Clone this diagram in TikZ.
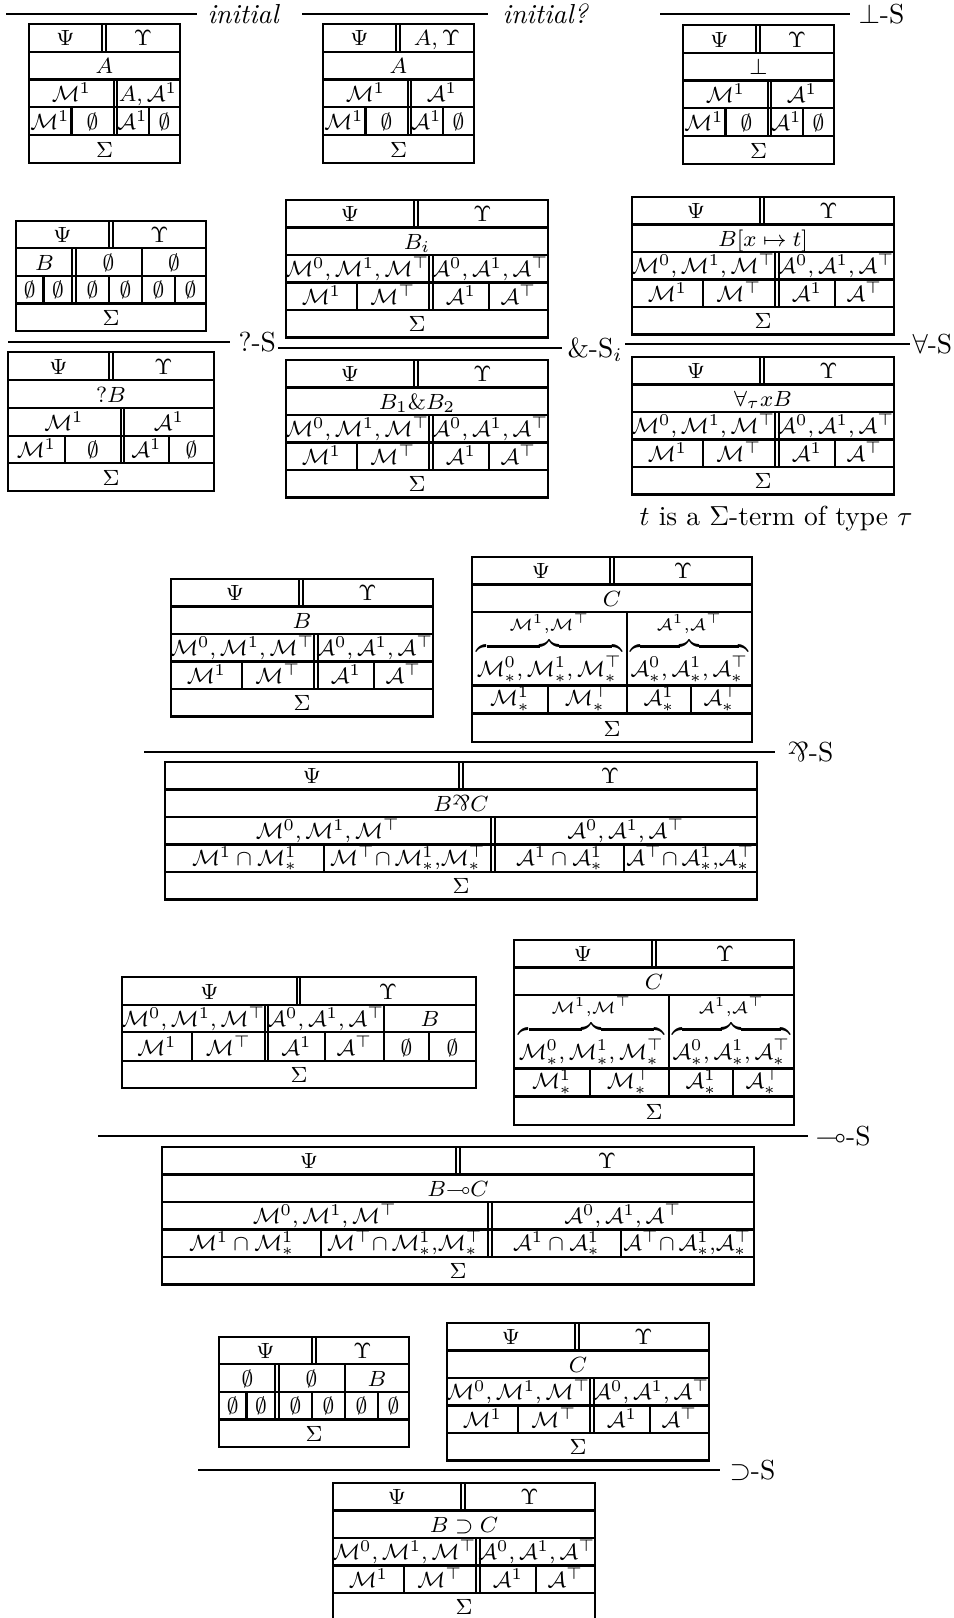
\documentclass[tikz,border=0pt]{standalone}
\usepackage{amssymb}
\newcommand\parrsym{{\rotatebox[origin=c]{180}{$\&$}}}
\newcommand\cM{\mathcal{M}}
\newcommand\cA{\mathcal{A}}
\newcounter{cellno}
\tikzset{
 ln/.style={line width=0.75pt},
 rul/.style={line width=0.85pt},
 cell/.style={inner sep=0pt, anchor=base, font=\footnotesize},
 lab/.style={inner sep=0pt, anchor=base west, font=\normalsize},
}
\newcommand\HL[3]{\draw[ln] (#1,#3) -- (#2,#3);}
\newcommand\VL[3]{\draw[ln] (#1,#2) -- (#1,#3);}
\newcommand\DVL[3]{\draw[ln] ({#1-1.8},#2) -- ({#1-1.8},#3) ({#1+1.8},#2) -- ({#1+1.8},#3);}
\newcommand\CT[3]{\stepcounter{cellno}\node[cell] (c\arabic{cellno}) at (#1,#2) {#3};}
% standard 5-row box
\newcommand\stdbox[3]{%
 \draw[ln] (#1,#2) rectangle ({#1+262},{#2+137.5});
 \HL{#1}{#1+262}{#2+27.5}
 \HL{#1}{#1+262}{#2+55}
 \HL{#1}{#1+262}{#2+82.5}
 \HL{#1}{#1+262}{#2+110}
 \DVL{#1+130}{#2}{#2+27.5}
 \DVL{#1+145}{#2+55}{#2+110}
 \VL{#1+71}{#2+82.5}{#2+110}
 \VL{#1+203}{#2+82.5}{#2+110}
 \CT{#1+64}{#2+21.5}{$\Psi$}
 \CT{#1+196.5}{#2+21.5}{$\Upsilon$}
 \CT{#1+131}{#2+49}{$#3$}
 \CT{#1+71.5}{#2+76.5}{$\cM^0,\cM^1,\cM^\top$}
 \CT{#1+204}{#2+76.5}{$\cA^0,\cA^1,\cA^\top$}
 \CT{#1+35.5}{#2+104}{$\cM^1$}
 \CT{#1+107}{#2+104}{$\cM^\top$}
 \CT{#1+175}{#2+104}{$\cA^1$}
 \CT{#1+232.5}{#2+104}{$\cA^\top$}
 \CT{#1+131}{#2+131.5}{$\Sigma$}
}
% box with braces
\newcommand\bracebox[3]{%
 \draw[ln] (#1,#2) rectangle ({#1+280},{#2+185});
 \HL{#1}{#1+280}{#2+27.5}
 \HL{#1}{#1+280}{#2+55}
 \HL{#1}{#1+280}{#2+128.5}
 \HL{#1}{#1+280}{#2+156.5}
 \DVL{#1+140}{#2}{#2+27.5}
 \VL{#1+155}{#2+55}{#2+156.5}
 \VL{#1+76}{#2+128.5}{#2+156.5}
 \VL{#1+219}{#2+128.5}{#2+156.5}
 \CT{#1+69}{#2+21.5}{$\Psi$}
 \CT{#1+211}{#2+21.5}{$\Upsilon$}
 \CT{#1+140}{#2+49}{$#3$}
 \CT{#1+77.5}{#2+119.5}{$\overbrace{\cM^0_*,\cM^1_*,\cM^\top_*}^{\cM^1,\cM^\top}$}
 \CT{#1+217.5}{#2+119.5}{$\overbrace{\cA^0_*,\cA^1_*,\cA^\top_*}^{\cA^1,\cA^\top}$}
 \CT{#1+38}{#2+148.5}{$\cM^1_*$}
 \CT{#1+115.5}{#2+148.5}{$\cM^\top_*$}
 \CT{#1+187}{#2+148.5}{$\cA^1_*$}
 \CT{#1+249.5}{#2+148.5}{$\cA^\top_*$}
 \CT{#1+140}{#2+179}{$\Sigma$}
}
% big conclusion box
\newcommand\bigbox[3]{%
 \draw[ln] (#1,#2) rectangle ({#1+592},{#2+137.5});
 \HL{#1}{#1+592}{#2+27.5}
 \HL{#1}{#1+592}{#2+55}
 \HL{#1}{#1+592}{#2+82.5}
 \HL{#1}{#1+592}{#2+110}
 \DVL{#1+296}{#2}{#2+27.5}
 \DVL{#1+328}{#2+55}{#2+110}
 \VL{#1+159}{#2+82.5}{#2+110}
 \VL{#1+459}{#2+82.5}{#2+110}
 \CT{#1+147}{#2+21.5}{$\Psi$}
 \CT{#1+445}{#2+21.5}{$\Upsilon$}
 \CT{#1+296}{#2+49}{$#3$}
 \CT{#1+163}{#2+76.5}{$\cM^0,\cM^1,\cM^\top$}
 \CT{#1+461}{#2+76.5}{$\cA^0,\cA^1,\cA^\top$}
 \CT{#1+79.5}{#2+103}{$\cM^1\cap\cM^1_*$}
 \CT{#1+243}{#2+103}{$\cM^\top{\cap}\,\cM^1_*,\!\cM^\top_*$}
 \CT{#1+394.5}{#2+103}{$\cA^1\cap\cA^1_*$}
 \CT{#1+525.5}{#2+103}{$\cA^\top{\cap}\,\cA^1_*,\!\cA^\top_*$}
 \CT{#1+296}{#2+131.5}{$\Sigma$}
}
% box with empty sets
\newcommand\emptybox[5]{%
 \draw[ln] (#1,#2) rectangle ({#1+190},{#2+110});
 \HL{#1}{#1+190}{#2+27}
 \HL{#1}{#1+190}{#2+55}
 \HL{#1}{#1+190}{#2+82.5}
 \DVL{#1+95}{#2}{#2+27}
 \DVL{#1+58}{#2+27}{#2+82.5}
 \VL{#1+126}{#2+27}{#2+82.5}
 \VL{#1+27.5}{#2+55}{#2+82.5}
 \VL{#1+93}{#2+55}{#2+82.5}
 \VL{#1+159}{#2+55}{#2+82.5}
 \CT{#1+46.5}{#2+21}{$\Psi$}
 \CT{#1+143.5}{#2+21}{$\Upsilon$}
 \CT{#1+28.5}{#2+49}{$#3$}
 \CT{#1+92.5}{#2+49}{$#4$}
 \CT{#1+158}{#2+49}{$#5$}
 \CT{#1+13.75}{#2+76.5}{$\emptyset$}
 \CT{#1+41.9}{#2+76.5}{$\emptyset$}
 \CT{#1+76.4}{#2+76.5}{$\emptyset$}
 \CT{#1+109.5}{#2+76.5}{$\emptyset$}
 \CT{#1+142.5}{#2+76.5}{$\emptyset$}
 \CT{#1+174.5}{#2+76.5}{$\emptyset$}
 \CT{#1+95}{#2+104}{$\Sigma$}
}
% small initial box
\newcommand\initbox[5]{%
 \draw[ln] (#1,#2) rectangle ({#1+151},{#2+139});
 \HL{#1}{#1+151}{#2+28}
 \HL{#1}{#1+151}{#2+55.5}
 \HL{#1}{#1+151}{#2+83}
 \HL{#1}{#1+151}{#2+111}
 \DVL{#1+75}{#2}{#2+28}
 \DVL{#1+86.5}{#2+55.5}{#2+111}
 \VL{#1+42.5}{#2+83}{#2+111}
 \VL{#1+120}{#2+83}{#2+111}
 \CT{#1+36.5}{#2+22}{$\Psi$}
 \CT{#1+114}{#2+22}{$#3$}
 \CT{#1+75.5}{#2+49.5}{$#4$}
 \CT{#1+42.5}{#2+77}{$\cM^1$}
 \CT{#1+119}{#2+77}{$#5$}
 \CT{#1+21}{#2+105}{$\cM^1$}
 \CT{#1+63.5}{#2+105}{$\emptyset$}
 \CT{#1+103.5}{#2+105}{$\cA^1$}
 \CT{#1+135.5}{#2+105}{$\emptyset$}
 \CT{#1+75.5}{#2+133}{$\Sigma$}
}
\begin{document}
\begin{tikzpicture}[x=0.3636pt,y=-0.3636pt]
\clip (0,0) rectangle (953,1618);
\fill[white] (0,0) rectangle (953,1618);
% ---------- top row
\draw[rul] (6,14) -- (197,14);
\node[lab] (linit) at (207,23.5) {\textit{initial}};
\draw[rul] (302,14) -- (488,14);
\node[lab] (linitq) at (502,23.5) {\textit{initial?}};
\draw[rul] (660,14) -- (850,14);
\node[lab] (lbot) at (858,23.5) {$\bot$-S};
\initbox{29}{24}{\Upsilon}{A}{A,\cA^1}
\initbox{323}{24}{A,\Upsilon}{A}{\cA^1}
\initbox{683}{25}{\Upsilon}{\bot}{\cA^1}
% ---------- ?-S
\emptybox{16}{221}{B}{\emptyset}{\emptyset}
\draw[rul] (8,342) -- (230,342);
\node[lab] (lwn) at (238,351.5) {?-S};
\draw[ln] (8,352) rectangle (214,491);
\HL{8}{214}{380}
\HL{8}{214}{408}
\HL{8}{214}{436}
\HL{8}{214}{463}
\DVL{111}{352}{380}
\DVL{122.5}{408}{463}
\VL{65}{436}{463}
\VL{169}{436}{463}
\CT{58.5}{374}{$\Psi$}
\CT{163.5}{374}{$\Upsilon$}
\CT{111}{402}{$?B$}
\CT{64}{430}{$\cM^1$}
\CT{169}{430}{$\cA^1$}
\CT{36.5}{457}{$\cM^1$}
\CT{93}{457}{$\emptyset$}
\CT{146.5}{457}{$\cA^1$}
\CT{191.5}{457}{$\emptyset$}
\CT{111}{485}{$\Sigma$}
% ---------- &-S
\stdbox{286}{200}{B_i}
\draw[rul] (278,348) -- (562,348);
\node[lab] (lwith) at (567,357.5) {\&-S$_i$};
\stdbox{286}{360}{B_1\&B_2}
% ---------- forall-S
\stdbox{632}{197}{B[x\mapsto t]}
\draw[rul] (625,344) -- (910,344);
\node[lab] (lall) at (912,353.5) {$\forall$-S};
\stdbox{632}{357}{\forall_\tau x B}
\node[inner sep=0pt, anchor=base east, font=\normalsize] (tterm) at (913,525) {$t$ is a $\Sigma$-term of type $\tau$};
% ---------- par-S
\stdbox{171}{579}{B}
\bracebox{472}{557}{C}
\draw[rul] (144,752) -- (775,752);
\node[lab] (lpar) at (787,761.5) {\rotatebox[origin=c]{180}{\&}-S};
\bigbox{165}{762}{B\parrsym C}
% ---------- multimap-S
\draw[ln] (122,977) rectangle (476,1088);
\HL{122}{476}{1005}
\HL{122}{476}{1032}
\HL{122}{476}{1061}
\DVL{298.5}{977}{1005}
\DVL{266.5}{1005}{1061}
\VL{384}{1005}{1061}
\VL{192}{1032}{1061}
\VL{325}{1032}{1061}
\VL{429}{1032}{1061}
\CT{209.5}{999}{$\Psi$}
\CT{388}{999}{$\Upsilon$}
\CT{193.5}{1026}{$\cM^0,\cM^1,\cM^\top$}
\CT{326}{1026}{$\cA^0,\cA^1,\cA^\top$}
\CT{430}{1026}{$B$}
\CT{157}{1055}{$\cM^1$}
\CT{228.5}{1055}{$\cM^\top$}
\CT{296.5}{1055}{$\cA^1$}
\CT{354.5}{1055}{$\cA^\top$}
\CT{406.5}{1055}{$\emptyset$}
\CT{452.5}{1055}{$\emptyset$}
\CT{299}{1082}{$\Sigma$}
\bracebox{514}{940}{C}
\draw[rul] (98,1136) -- (808,1136);
\node[lab] (llin) at (815,1145.5) {$\multimap$-S};
\bigbox{162}{1147}{B{\multimap}C}
% ---------- supset-S
\emptybox{219}{1337}{\emptyset}{\emptyset}{B}
\stdbox{447}{1323}{C}
\draw[rul] (198,1470) -- (720,1470);
\node[lab] (limp) at (729,1479.5) {$\supset$-S};
\stdbox{333}{1483}{B\supset C}
\end{tikzpicture}
\end{document}
